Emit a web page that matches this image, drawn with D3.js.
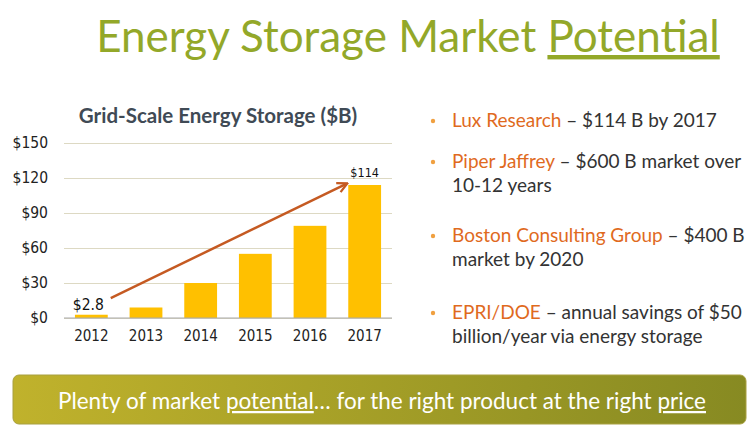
<!DOCTYPE html>
<html><head><meta charset="utf-8">
<script src="https://cdn.jsdelivr.net/npm/d3@7"></script>
<style>body{margin:0;background:#fff}svg{display:block;font-family:Lato,"Open Sans",sans-serif}</style>
</head><body>
<svg id="c" width="754" height="427"></svg>
<script>
const years = ["2012", "2013", "2014", "2015", "2016", "2017"];
const values = [2.8, 9, 30, 55, 79, 114];
const yTicks = [0, 30, 60, 90, 120, 150];
const arrowFrom = ["2012", 17];
const arrowTo = ["2017", 115];
const bullets = [
  {head: "Lux Research", rest: [" \u2013 $114 B by 2017"]},
  {head: "Piper Jaffrey", rest: [" \u2013 $600 B market over", "10-12 years"]},
  {head: "Boston Consulting Group", rest: [" \u2013 $400 B", "market by 2020"]},
  {head: "EPRI/DOE", rest: [" \u2013 annual savings of $50", "billion/year via energy storage"]}
];

const svg = d3.select("#c");
const defs = svg.append("defs");
const numFont = "'DejaVu Sans Condensed','DejaVu Sans',sans-serif";

// main title
const t = svg.append("text").attr("x", 408).attr("y", 52).attr("text-anchor", "middle")
  .attr("font-size", 44).attr("fill", "#93a829");
t.append("tspan").text("Energy Storage Market ");
t.append("tspan").text("Potential").attr("text-decoration", "underline");

// chart
const x = d3.scaleBand().domain(years).range([64, 392]).paddingInner(0.4).paddingOuter(0.2);
const y = d3.scaleLinear().domain([0, 150]).range([318, 143]);

svg.append("text").attr("x", 218).attr("y", 123).attr("text-anchor", "middle")
  .attr("font-size", 20.5).attr("font-weight", "bold").attr("fill", "#404a55")
  .text("Grid-Scale Energy Storage ($B)");

const yAxis = d3.axisLeft(y).tickValues(yTicks).tickSize(-(392 - 64)).tickFormat(d => "$" + d);
const ga = svg.append("g").attr("transform", "translate(64,0)").call(yAxis);
ga.select(".domain").remove();
ga.selectAll(".tick line").attr("stroke", "#ddd9c3").attr("stroke-width", 1.2);
ga.selectAll(".tick text").attr("x", -16).attr("font-size", 15.5).attr("fill", "#222")
  .attr("font-family", numFont);

svg.append("g").selectAll("rect").data(values).join("rect")
  .attr("x", (d, i) => x(years[i])).attr("width", x.bandwidth())
  .attr("y", d => y(d)).attr("height", d => y(0) - y(d)).attr("fill", "#ffc000");

svg.append("line").attr("x1", 64).attr("x2", 392).attr("y1", y(0)).attr("y2", y(0))
  .attr("stroke", "#aaa").attr("stroke-width", 1.2);

const xAxis = d3.axisBottom(x).tickSize(0).tickPadding(12);
const gx = svg.append("g").attr("transform", `translate(0,${y(0)})`).call(xAxis);
gx.select(".domain").remove();
gx.selectAll(".tick text").attr("font-size", 15).attr("fill", "#222").attr("font-family", numFont);

svg.append("text").attr("x", x("2012") + x.bandwidth() / 2 - 3).attr("y", y(values[0]) - 5)
  .attr("text-anchor", "middle").attr("font-size", 15.5).attr("fill", "#111")
  .attr("font-family", numFont).text("$2.8");
svg.append("text").attr("x", x("2017") + x.bandwidth() / 2).attr("y", y(values[5]) - 8)
  .attr("text-anchor", "middle").attr("font-size", 12.5).attr("fill", "#111")
  .attr("font-family", numFont).text("$114");

// arrow
defs.append("marker").attr("id", "ah").attr("viewBox", "0 0 10 10").attr("refX", 8).attr("refY", 5)
  .attr("markerWidth", 5).attr("markerHeight", 5).attr("orient", "auto")
  .append("path").attr("d", "M1,1 L9,5 L1,9").attr("fill", "none").attr("stroke", "#c55a22").attr("stroke-width", 1.8);
svg.append("line")
  .attr("x1", x(arrowFrom[0]) + x.bandwidth() + 3).attr("y1", y(arrowFrom[1]))
  .attr("x2", x(arrowTo[0]) - 2).attr("y2", y(arrowTo[1]))
  .attr("stroke", "#c55a22").attr("stroke-width", 2.5).attr("marker-end", "url(#ah)");

// bullets
const by = [127, 168, 242, 319];
bullets.forEach((b, i) => {
  svg.append("circle").attr("cx", 433).attr("cy", by[i] - 6).attr("r", 2.2).attr("fill", "#f0a040");
  const tx = svg.append("text").attr("x", 452).attr("y", by[i]).attr("font-size", 19).attr("fill", "#333");
  tx.append("tspan").text(b.head).attr("fill", "#e06a1e");
  tx.append("tspan").text(b.rest[0]);
  if (b.rest[1]) svg.append("text").attr("x", 452).attr("y", by[i] + 24).attr("font-size", 19)
    .attr("fill", "#333").text(b.rest[1]);
});

// bottom banner
const g = defs.append("linearGradient").attr("id", "bg");
g.append("stop").attr("offset", "0%").attr("stop-color", "#c0b22c");
g.append("stop").attr("offset", "100%").attr("stop-color", "#878a22");
svg.append("rect").attr("x", 13).attr("y", 375).attr("width", 733).attr("height", 49).attr("rx", 6)
  .attr("fill", "url(#bg)").attr("stroke", "#a8a040");
const bt = svg.append("text").attr("x", 382).attr("y", 409).attr("text-anchor", "middle")
  .attr("font-size", 22.5).attr("fill", "#fff");
bt.append("tspan").text("Plenty of market ");
bt.append("tspan").text("potential").attr("text-decoration", "underline");
bt.append("tspan").text("\u2026 for the right product at the right ");
bt.append("tspan").text("price").attr("text-decoration", "underline");
</script>
</body></html>
